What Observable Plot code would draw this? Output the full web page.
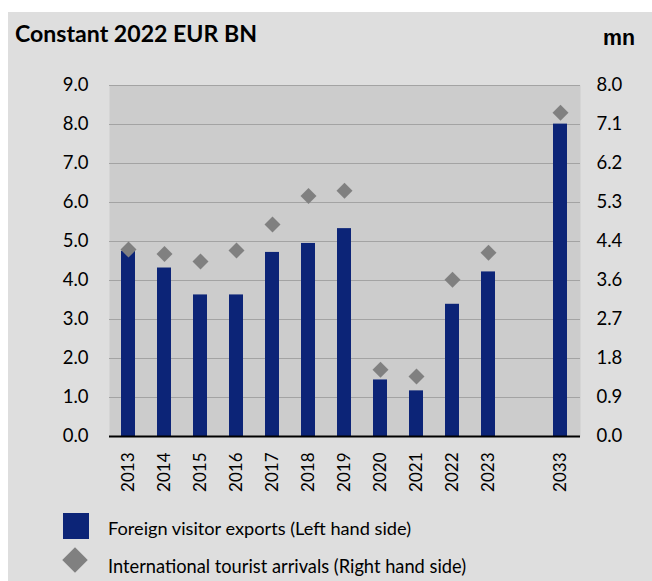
<!DOCTYPE html>
<html><head><meta charset="utf-8">
<script src="https://cdn.jsdelivr.net/npm/d3@7"></script>
<script src="https://cdn.jsdelivr.net/npm/@observablehq/plot@0.6"></script>
<style>
html,body{margin:0;padding:0;background:#fff;}
#panel{position:absolute;left:8px;top:12px;width:644px;height:569px;background:#dedede;overflow:hidden;}
#panel svg{display:block;}
</style></head><body>
<div id="panel"></div>
<script>
// ---- data ----
const years = ["2013","2014","2015","2016","2017","2018","2019","2020","2021","2022","2023","2033"];
const slots = ["2013","2014","2015","2016","2017","2018","2019","2020","2021","2022","2023","gap","2033"];
const exportsBn = [4.75,4.32,3.63,3.63,4.72,4.95,5.33,1.45,1.17,3.39,4.22,8.01];
const arrivalsMn = [4.26,4.16,3.99,4.24,4.83,5.48,5.60,1.52,1.37,3.57,4.19,7.38];
const leftTicks = [0,1,2,3,4,5,6,7,8,9];
const rightLabels = ["0.0","0.9","1.8","2.7","3.6","4.4","5.3","6.2","7.1","8.0"];
const leftMax = 9, rightMax = 8;
const title = "Constant 2022 EUR BN";
const rightUnit = "mn";
const legendLabels = ["Foreign visitor exports (Left hand side)", "International tourist arrivals (Right hand side)"];

const NAVY = "#0c2477", DIAMOND = "#808080";
const rows = years.map((y,i)=>({year:y, exp:exportsBn[i], arr:arrivalsMn[i]}));
const panel = document.getElementById("panel");
const NS = "http://www.w3.org/2000/svg";

function fitText(t, target){
  const w = t.getComputedTextLength();
  const fs = parseFloat(t.getAttribute("font-size"));
  t.setAttribute("font-size", (fs*target/w).toFixed(2));
}

// header
const head = document.createElementNS(NS,"svg");
head.setAttribute("width",644); head.setAttribute("height",48);
head.innerHTML = `<text id="ttl" x="7" y="29.7" font-family="Lato" font-weight="bold" font-size="21" fill="#000">${title}</text>
<text id="mn" x="595" y="33" font-family="Liberation Sans" font-weight="bold" font-size="21" fill="#000">${rightUnit}</text>`;
panel.appendChild(head);
fitText(head.querySelector("#ttl"), 242);
fitText(head.querySelector("#mn"), 32);

const chart = Plot.plot({
  width: 644, height: 440,
  marginLeft: 101, marginRight: 72, marginTop: 25, marginBottom: 64,
  style: {background: "transparent", fontFamily: "Lato", color: "#000", overflow: "visible"},
  x: {type: "band", domain: slots, paddingInner: 0.6, paddingOuter: 0.3, axis: null},
  y: {domain: [0, leftMax], axis: null},
  marks: [
    Plot.frame({fill: "#cccccc", stroke: "none"}),
    Plot.ruleY(leftTicks.slice(1), {stroke: "#a3a3a3", strokeWidth: 1.2}),
    Plot.barY(rows, {x: "year", y: "exp", fill: NAVY}),
    Plot.ruleY([0], {stroke: "#000", strokeWidth: 2}),
    Plot.dot(rows, {x: "year", y: d => d.arr * leftMax / rightMax, symbol: "diamond2", r: 7.2, fill: DIAMOND, stroke: "none"}),
    Plot.axisY(leftTicks, {anchor: "left", tickSize: 0, tickPadding: 21, fontSize: 18.5, tickFormat: d => d.toFixed(1), label: null}),
    Plot.axisY(leftTicks, {anchor: "right", tickSize: 0, tickPadding: 16, fontSize: 18.5, tickFormat: d => rightLabels[leftTicks.indexOf(d)], label: null}),
    Plot.text(years, {x: d => d, frameAnchor: "bottom", rotate: -90, textAnchor: "end", lineAnchor: "middle", dy: 16, fontSize: 17, fill: "#000"})
  ]
});
panel.appendChild(chart);

// legend
const leg = document.createElementNS(NS,"svg");
leg.setAttribute("width",644); leg.setAttribute("height",81);
leg.innerHTML = `<rect x="55" y="13" width="26" height="26" fill="${NAVY}"/>
<text id="l1" x="100" y="35" font-family="Lato" font-size="17" fill="#000">${legendLabels[0]}</text>
<rect x="58" y="51" width="18" height="18" fill="${DIAMOND}" transform="rotate(45 67 60)"/>
<text id="l2" x="100" y="72.7" font-family="Lato" font-size="17" fill="#000">${legendLabels[1]}</text>`;
panel.appendChild(leg);
fitText(leg.querySelector("#l1"), 303);
fitText(leg.querySelector("#l2"), 358);
</script>
</body></html>
